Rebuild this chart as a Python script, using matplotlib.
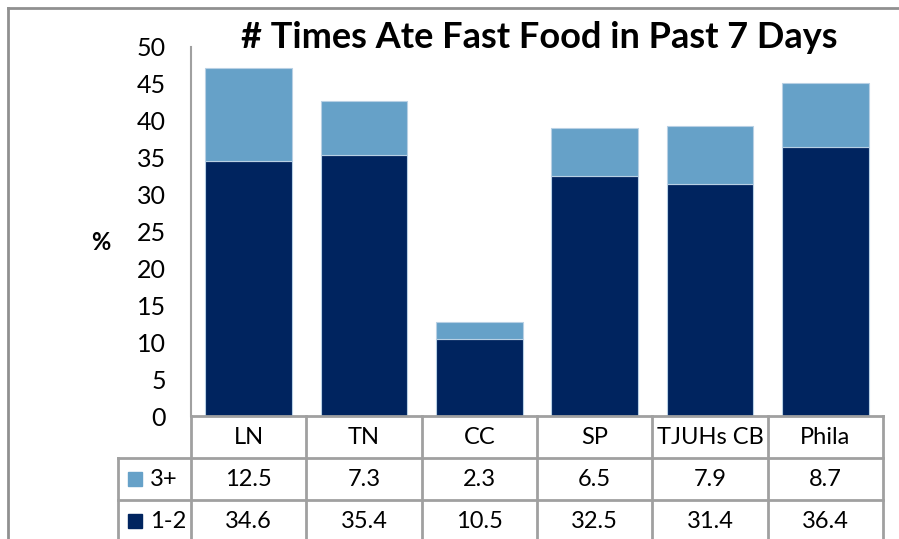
import matplotlib
matplotlib.use("Agg")
import matplotlib.pyplot as plt
from matplotlib.lines import Line2D
from matplotlib.patches import Rectangle
import matplotlib.transforms as mtransforms
import numpy as np

sites = ["LN", "TN", "CC", "SP", "TJUHs CB", "Phila"]
three_plus = [12.5, 7.3, 2.3, 6.5, 7.9, 8.7]
one_two = [34.6, 35.4, 10.5, 32.5, 31.4, 36.4]
series_names = ["3+", "1-2"]

light = "#66a1c8"
dark = "#00245f"
grid = "#a0a0a0"

plt.rcParams["font.family"] = ["Lato", "DejaVu Sans"]

W, H = 899, 539
fig = plt.figure(figsize=(W / 100, H / 100), dpi=100)

# plot area in pixel terms
x0, x1, ytop, ybot = 191, 883, 47, 416
ax = fig.add_axes([x0 / W, (H - ybot) / H, (x1 - x0) / W, (ybot - ytop) / H])

x = np.arange(len(sites))
ax.bar(x, one_two, width=0.75, color=dark, edgecolor="#b8d0e4", linewidth=0.8)
ax.bar(x, three_plus, bottom=one_two, width=0.75, color=light,
       edgecolor="#b8d0e4", linewidth=0.8)

ax.set_xlim(-0.5, len(sites) - 0.5)
ax.set_ylim(0, 50)
ax.set_yticks(range(0, 51, 5))
ax.tick_params(axis="y", length=0, pad=18, labelsize=18)
ax.set_xticks([])
for s in ["top", "right", "bottom"]:
    ax.spines[s].set_visible(False)
ax.spines["left"].set_color(grid)
ax.spines["left"].set_linewidth(1.5)

fig.text(539 / W, 1 - 38 / H, "# Times Ate Fast Food in Past 7 Days",
         ha="center", va="center", fontsize=26, fontweight="bold")
fig.text(101 / W, 1 - 242 / H, "%", ha="center", va="center",
         fontsize=17, fontweight="bold")

# outer frame
fig.add_artist(Line2D([8 / W, 8 / W], [0, 1 - 8 / H], color="#909090", lw=2,
                      transform=fig.transFigure))
fig.add_artist(Line2D([8 / W, 1], [1 - 8 / H, 1 - 8 / H], color="#909090", lw=2,
                      transform=fig.transFigure))

# data table under the bars: x in data units, y in pixels below the axis
row_h = 42
trans = mtransforms.blended_transform_factory(ax.transData, mtransforms.IdentityTransform())
base = ax.transAxes.transform((0, 0))[1]
label_left = -0.5 - (x0 - 118) / ((x1 - x0) / len(sites))
n = len(sites)


def hline(xa, xb, yp):
    fig.add_artist(Line2D([xa, xb], [base - yp, base - yp], color=grid, lw=2,
                          transform=trans, clip_on=False))


def vline(xp, ya, yb):
    fig.add_artist(Line2D([xp, xp], [base - ya, base - yb], color=grid, lw=2,
                          transform=trans, clip_on=False))


hline(-0.5, n - 0.5, 0)
for r in (1, 2, 3):
    hline(label_left, n - 0.5, r * row_h)
for i in range(n + 1):
    vline(i - 0.5, 0, 3 * row_h + 10)
vline(label_left, row_h, 3 * row_h + 10)

for i, name in enumerate(sites):
    fig.text(i, base - 0.5 * row_h, name, transform=trans, ha="center",
             va="center", fontsize=17)
rows = [three_plus, one_two]
colors = [light, dark]
for r, (vals, nm, c) in enumerate(zip(rows, series_names, colors)):
    yc = base - (r + 1.5) * row_h
    for i, v in enumerate(vals):
        fig.text(i, yc, f"{v:.1f}", transform=trans, ha="center", va="center",
                 fontsize=17)
    # legend key
    kx = 128 / W
    fig.add_artist(Rectangle((kx, (yc - 7) / H), 14 / W, 14 / H, color=c,
                             transform=fig.transFigure))
    fig.text(150 / W, yc / H, nm, ha="left", va="center", fontsize=17)

fig.savefig("out.png", dpi=100)
